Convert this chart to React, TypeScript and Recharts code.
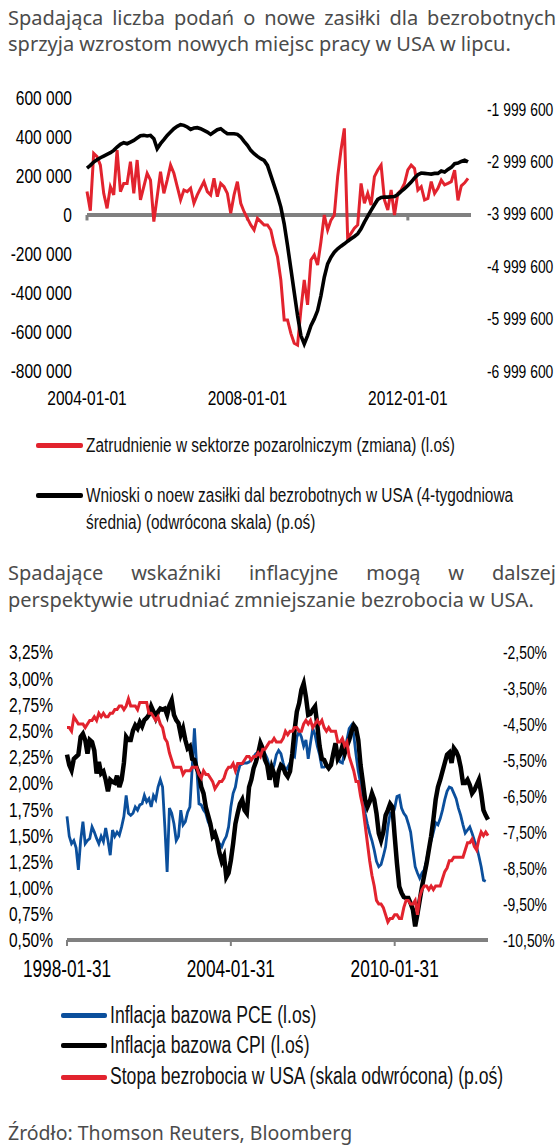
import React from "react";
import { LineChart, Line, XAxis, YAxis, ReferenceLine } from "recharts";

// Arial Narrow is not installed: Liberation Sans squeezed horizontally stands in for it
const TICK_FONT = '"Liberation Sans", Arial, sans-serif';
const TITLE_FONT = '"Noto Sans", "Open Sans", sans-serif';

const RED = "#e2232e";
const BLUE = "#0b4f9c";
const BLACK = "#000000";
const GREY = "#808080";

// ---- chart 1: payrolls vs jobless claims (monthly, 2004-01 .. 2013-07)
const JOBS_L_TICKS = [-800000, -600000, -400000, -200000, 0, 200000, 400000, 600000];
const CLAIMS_R_TICKS = [-6999600, -5999600, -4999600, -3999600, -2999600, -1999600];
const JOBS_X_TICKS = ["2004-01-01", "2008-01-01", "2012-01-01"];

const NFP_CHANGE = [
  120000, 22000, 316000, 299000, 256000, 111000, 34000, 145000, 103000, 333000, 120000, 162000,
  162000, 273000, 111000, 282000, 77000, 145000, 214000, 179000, -34000, 94000, 222000, 111000,
  179000, 256000, 214000, 145000, 77000, 128000, 120000, 137000, 60000, 103000, 137000, 171000,
  120000, 103000, 188000, 94000, 162000, 145000, 111000, 9000, 103000, 171000, 60000, 17000,
  -17000, -51000, -77000, -17000, -34000, -51000, -51000, -77000, -154000, -214000, -333000, -538000,
  -538000, -607000, -658000, -667000, -487000, -333000, -461000, -231000, -205000, -256000, -137000, 0,
  -77000, -26000, 0, 197000, 333000, 444000, -120000, -94000, -68000, -51000, 162000, 60000,
  111000, 51000, 197000, 231000, 256000, 77000, 26000, 128000, 0, 111000, 128000, 162000,
  231000, 256000, 239000, 128000, 145000, 77000, 85000, 171000, 111000, 137000, 179000, 154000,
  162000, 171000, 230000, 75000, 150000, 165000, 188000,
];

const CLAIMS_INV = [
  -3127000, -3076100, -3012600, -2967800, -2929600, -2897800, -2865900, -2834100, -2789600, -2725800, -2674800, -2643000,
  -2662100, -2630300, -2598600, -2553800, -2509300, -2502900, -2515600, -2502900, -2566600, -2757600, -2662100, -2585700,
  -2502900, -2439200, -2375600, -2330900, -2299100, -2311800, -2343600, -2388200, -2362800, -2356400, -2375600, -2407600,
  -2439200, -2483800, -2439200, -2394600, -2375600, -2426600, -2471000, -2471000, -2471000, -2483800, -2534700, -2617600,
  -2694000, -2789600, -2853200, -2904100, -2948700, -2980600, -3076100, -3267200, -3458200, -3649300, -3872200, -4190700,
  -4604700, -5050500, -5496300, -5942100, -6324300, -6483500, -6324300, -6133200, -6005600, -5846600, -5560000, -5209700,
  -4955000, -4827600, -4732000, -4668300, -4617400, -4572800, -4521900, -4477300, -4432700, -4381700, -4286200, -4158800,
  -4044200, -3935900, -3827600, -3725700, -3687500, -3681100, -3681100, -3674800, -3668400, -3630200, -3572900, -3521900,
  -3458200, -3394500, -3318100, -3254400, -3222600, -3229000, -3235300, -3241700, -3229000, -3229000, -3184400, -3203500,
  -3152500, -3114300, -3044200, -3032700, -3000900, -2975500, -3010000,
];

// ---- chart 2: core inflation vs unemployment (monthly, 1998-01 .. 2013-06)
const INFL_L_TICKS = [0.5, 0.75, 1, 1.25, 1.5, 1.75, 2, 2.25, 2.5, 2.75, 3, 3.25];
const UNEMP_R_TICKS = [-10.5, -9.5, -8.5, -7.5, -6.5, -5.5, -4.5, -3.5, -2.5];
const INFL_X_TICKS = ["1998-01-31", "2004-01-31", "2010-01-31"];

const CORE_PCE = [
  1.68, 1.49, 1.42, 1.45, 1.38, 1.17, 1.45, 1.63, 1.42, 1.45, 1.47, 1.58,
  1.53, 1.47, 1.42, 1.49, 1.44, 1.57, 1.45, 1.31, 1.55, 1.49, 1.53, 1.5,
  1.58, 1.68, 1.88, 1.71, 1.69, 1.71, 1.77, 1.74, 1.79, 1.8, 1.88, 1.82,
  1.85, 1.77, 1.88, 1.84, 1.96, 2.03, 1.96, 1.58, 1.15, 1.76, 1.71, 1.61,
  1.45, 1.49, 1.74, 1.6, 1.63, 1.72, 1.77, 2.14, 2.52, 2.15, 1.8, 1.79,
  1.74, 1.71, 1.63, 1.58, 1.52, 1.49, 1.45, 1.42, 1.39, 1.45, 1.49, 1.58,
  1.77, 1.9, 1.96, 2.09, 2.17, 2.18, 2.19, 2.19, 2.2, 2.22, 2.25,
  2.28, 2.28, 2.3, 2.31, 2.28, 2.23, 2.15, 2.11, 2.17, 2.27, 2.31, 2.28, 2.19,
  2.11, 2.15, 2.19, 2.27, 2.25, 2.44, 2.49, 2.44, 2.35, 2.41, 2.23, 2.38,
  2.52, 2.46, 2.35, 2.27, 2.15, 2.15, 2.17, 2.14, 2.17, 2.25, 2.35, 2.25,
  2.2, 2.19, 2.3, 2.41, 2.52, 2.55, 2.46, 2.27, 2.11, 2.0, 1.84, 1.71,
  1.61, 1.52, 1.45, 1.36, 1.25, 1.2, 1.22, 1.3, 1.39, 1.58, 1.71, 1.69,
  1.76, 1.87, 1.88, 1.76, 1.71, 1.68, 1.61, 1.53, 1.36, 1.2, 1.14, 1.09,
  1.14, 1.17, 1.26, 1.38, 1.45, 1.53, 1.62, 1.6, 1.66, 1.74, 1.84, 1.92,
  1.96, 1.95, 1.9, 1.85, 1.76, 1.69, 1.6, 1.52, 1.55, 1.58, 1.52, 1.45,
  1.39, 1.3, 1.2, 1.07, 1.06, null,
];

const CORE_CPI = [
  2.27, 2.17, 2.12, 2.23, 2.25, 2.27, 2.44, 2.47, 2.41, 2.28, 2.41, 2.39,
  2.31, 2.09, 2.2, 2.09, 2.11, 2.03, 1.92, 2.03, 2.01, 2.0, 2.07, 1.96,
  2.03, 2.19, 2.44, 2.41, 2.41, 2.5, 2.55, 2.52, 2.58, 2.54, 2.6, 2.62,
  2.65, 2.73, 2.68, 2.62, 2.68, 2.71, 2.7, 2.71, 2.65, 2.74, 2.79, 2.65,
  2.6, 2.57, 2.46, 2.52, 2.41, 2.33, 2.35, 2.23, 2.22, 2.14, 2.09, 1.96,
  1.9, 1.77, 1.69, 1.61, 1.49, 1.52, 1.45, 1.33, 1.25, 1.3, 1.1, 1.14,
  1.26, 1.42, 1.61, 1.71, 1.8, 1.84, 1.74, 1.71, 1.96, 2.03, 2.14,
  2.2, 2.28, 2.38, 2.33, 2.22, 2.17, 2.03, 2.15, 2.09, 1.96, 2.11, 2.17, 2.15,
  2.09, 2.06, 2.11, 2.28, 2.5, 2.68, 2.76, 2.89, 2.95, 2.82, 2.65, 2.66,
  2.7, 2.73, 2.55, 2.35, 2.23, 2.22, 2.17, 2.14, 2.17, 2.28, 2.38, 2.23,
  2.27, 2.35, 2.28, 2.35, 2.41, 2.49, 2.55, 2.52, 2.41, 2.17, 2.01, 1.84,
  1.77, 1.82, 1.9, 1.84, 1.71, 1.52, 1.45, 1.53, 1.69, 1.74, 1.8, 1.77,
  1.49, 1.23, 1.01, 0.95, 0.91, 0.9, 0.9, 0.85, 0.79, 0.63, 0.75, 0.88,
  1.01, 1.12, 1.23, 1.36, 1.49, 1.65, 1.84, 1.96, 2.03, 2.11, 2.19, 2.27,
  2.29, 2.19, 2.33, 2.3, 2.25, 2.15, 2.0, 2.0, 2.03, 1.98, 1.9, 1.93,
  1.98, 2.03, 1.9, 1.74, 1.69, 1.65,
];

const UNEMP_INV = [
  -4.6, -4.6, -4.7, -4.3, -4.4, -4.5, -4.5, -4.5, -4.6, -4.5, -4.4, -4.4,
  -4.3, -4.4, -4.2, -4.3, -4.2, -4.3, -4.3, -4.2, -4.2, -4.1, -4.1, -4.0,
  -4.0, -4.1, -4.0, -3.8, -4.0, -4.0, -4.0, -4.1, -3.9, -3.9, -3.9, -3.9,
  -4.2, -4.2, -4.3, -4.4, -4.3, -4.5, -4.6, -4.9, -5.0, -5.3, -5.5, -5.7,
  -5.7, -5.7, -5.7, -5.9, -5.8, -5.8, -5.8, -5.7, -5.7, -5.7, -5.9, -6.0,
  -5.8, -5.9, -5.9, -6.0, -6.1, -6.3, -6.2, -6.1, -6.1, -6.0, -5.8, -5.7,
  -5.7, -5.6, -5.8, -5.6, -5.6, -5.6, -5.5, -5.4, -5.4, -5.5, -5.4, -5.4,
  -5.3, -5.4, -5.2, -5.2, -5.1, -5.0, -5.0, -4.9, -5.0, -5.0, -5.0, -4.9,
  -4.7, -4.8, -4.7, -4.7, -4.6, -4.6, -4.7, -4.7, -4.5, -4.4, -4.5, -4.4,
  -4.6, -4.5, -4.4, -4.5, -4.4, -4.6, -4.7, -4.6, -4.7, -4.7, -4.7, -5.0,
  -5.0, -4.9, -5.1, -5.0, -5.4, -5.6, -5.8, -6.1, -6.1, -6.5, -6.8, -7.3,
  -7.8, -8.3, -8.7, -9.0, -9.4, -9.5, -9.5, -9.6, -9.8, -10.0, -9.9, -9.9,
  -9.8, -9.8, -9.9, -9.9, -9.6, -9.4, -9.4, -9.5, -9.5, -9.4, -9.8, -9.3,
  -9.1, -9.0, -9.0, -9.1, -9.0, -9.1, -9.0, -9.0, -9.0, -8.8, -8.6, -8.5,
  -8.3, -8.3, -8.2, -8.2, -8.2, -8.2, -8.2, -8.0, -7.8, -7.8, -7.7, -7.9,
  -8.0, -7.7, -7.5, -7.6, -7.5, -7.6,
];

function monthDates(year: number, month: number, count: number, monthEnd: boolean) {
  const out: string[] = [];
  for (let i = 0; i < count; i++) {
    const y = year + Math.floor((month - 1 + i) / 12);
    const m = ((month - 1 + i) % 12) + 1;
    const d = monthEnd ? new Date(Date.UTC(y, m, 0)).getUTCDate() : 1;
    out.push(`${y}-${String(m).padStart(2, "0")}-${String(d).padStart(2, "0")}`);
  }
  return out;
}

const JOBS_DATES = monthDates(2004, 1, NFP_CHANGE.length, false);
const INFL_DATES = monthDates(1998, 1, CORE_CPI.length, true);

const jobsData = JOBS_DATES.map((date, i) => ({
  date,
  nfp: NFP_CHANGE[i],
  claims: CLAIMS_INV[i],
}));

const inflData = INFL_DATES.map((date, i) => ({
  date,
  pce: CORE_PCE[i],
  cpi: CORE_CPI[i],
  unemp: UNEMP_INV[i],
}));

function fmtSpaced(v: number) {
  const s = Math.abs(v)
    .toString()
    .replace(/\B(?=(\d{3})+(?!\d))/g, " ");
  return (v < 0 ? "-" : "") + s;
}

const fmtPct = (v: number) => v.toFixed(2).replace(".", ",") + "%";

// tick drawn squeezed around its anchor point
function NarrowTick(props: any) {
  const { x, y, payload, textAnchor, size, fmt, dy, sx } = props;
  const label = fmt ? fmt(payload.value) : payload.value;
  return (
    <g transform={`translate(${x},${y})`}>
      <text
        transform={`scale(${sx},1)`}
        textAnchor={textAnchor}
        dy={dy}
        fontSize={size}
        fontFamily={TICK_FONT}
        fill="#000"
      >
        {label}
      </text>
    </g>
  );
}

function Text({ left, center, size, lh, color, font, children, width, justify, squeeze }: any) {
  return (
    <div
      style={{
        position: "absolute",
        left,
        top: center - lh / 2,
        width,
        fontSize: size,
        lineHeight: `${lh}px`,
        color,
        fontFamily: font,
        whiteSpace: "nowrap",
        textAlign: justify ? "justify" : "left",
        textAlignLast: justify ? "justify" : "auto",
        transform: squeeze ? `scaleX(${squeeze})` : undefined,
        transformOrigin: "left center",
      }}
    >
      {children}
    </div>
  );
}

function Swatch({ left, center, width, color }: any) {
  return (
    <div
      style={{
        position: "absolute",
        left,
        top: center - 2.5,
        width,
        height: 5,
        background: color,
        borderRadius: 2,
      }}
    />
  );
}

export default function App() {
  return (
    <div
      style={{
        position: "absolute",
        left: 0,
        top: 0,
        width: 559,
        height: 1146,
        background: "#fff",
        overflow: "hidden",
      }}
    >
      <Text left={8} center={18} size={20} lh={26} color="#4b4b4b" font={TITLE_FONT} width={548} justify>
        Spadająca liczba podań o nowe zasiłki dla bezrobotnych
      </Text>
      <Text left={8} center={44} size={20} lh={26} color="#4b4b4b" font={TITLE_FONT}>
        sprzyja wzrostom nowych miejsc pracy w USA w lipcu.
      </Text>

      <div style={{ position: "absolute", left: 0, top: 80 }}>
        <LineChart
          width={559}
          height={330}
          data={jobsData}
          margin={{ top: 18, right: 0, bottom: 0, left: 0 }}
        >
          <XAxis
            dataKey="date"
            ticks={JOBS_X_TICKS}
            interval={0}
            axisLine={false}
            tickLine={false}
            tickSize={0}
            tickMargin={19}
            height={39}
            padding={{ left: 0, right: 3 }}
            tick={(p: any) => <NarrowTick {...p} size={21} sx={0.74} dy="0.71em" />}
          />
          <YAxis
            yAxisId="l"
            type="number"
            domain={[-800000, 600000]}
            ticks={JOBS_L_TICKS}
            interval={0}
            width={87}
            axisLine={false}
            tickLine={false}
            tickSize={0}
            tickMargin={15}
            tick={(p: any) => (
              <NarrowTick {...p} size={21} sx={0.74} dy="0.355em" fmt={fmtSpaced} />
            )}
          />
          <YAxis
            yAxisId="r"
            orientation="right"
            type="number"
            domain={[-6999600, -1790000]}
            ticks={CLAIMS_R_TICKS}
            interval={0}
            width={88}
            axisLine={false}
            tickLine={false}
            tickSize={0}
            tickMargin={16}
            tick={(p: any) => (
              <NarrowTick {...p} size={18.5} sx={0.75} dy="0.355em" fmt={fmtSpaced} />
            )}
          />
          <ReferenceLine yAxisId="l" y={0} stroke={GREY} strokeWidth={4} />
          {JOBS_X_TICKS.map((d) => (
            <ReferenceLine
              key={d}
              yAxisId="l"
              segment={[
                { x: d, y: 0 },
                { x: d, y: -28000 },
              ]}
              stroke={GREY}
              strokeWidth={3}
            />
          ))}
          <Line
            yAxisId="l"
            dataKey="nfp"
            stroke={RED}
            strokeWidth={3}
            dot={false}
            type="linear"
            isAnimationActive={false}
          />
          <Line
            yAxisId="r"
            dataKey="claims"
            stroke={BLACK}
            strokeWidth={3.6}
            dot={false}
            type="linear"
            isAnimationActive={false}
          />
        </LineChart>
      </div>

      <Swatch left={36} center={445.5} width={47} color={RED} />
      <Text left={86} center={445} size={20} lh={26} color="#111" font={TICK_FONT} squeeze={0.77}>
        Zatrudnienie w sektorze pozarolniczym (zmiana) (l.oś)
      </Text>
      <Swatch left={36} center={495.5} width={47} color={BLACK} />
      <Text left={86} center={495} size={20} lh={26} color="#111" font={TICK_FONT} squeeze={0.77}>
        Wnioski o noew zasiłki dal bezrobotnych w USA (4-tygodniowa
      </Text>
      <Text left={86} center={522} size={20} lh={26} color="#111" font={TICK_FONT} squeeze={0.77}>
        średnia) (odwrócona skala) (p.oś)
      </Text>

      <Text left={8} center={573} size={20} lh={26} color="#4b4b4b" font={TITLE_FONT} width={548} justify>
        Spadające wskaźniki inflacyjne mogą w dalszej
      </Text>
      <Text left={8} center={600} size={20} lh={26} color="#4b4b4b" font={TITLE_FONT}>
        perspektywie utrudniać zmniejszanie bezrobocia w USA.
      </Text>

      <div style={{ position: "absolute", left: 0, top: 630 }}>
        <LineChart
          width={559}
          height={360}
          data={inflData}
          margin={{ top: 22, right: 0, bottom: 0, left: 0 }}
        >
          <XAxis
            dataKey="date"
            ticks={INFL_X_TICKS}
            interval={0}
            axisLine={{ stroke: GREY, strokeWidth: 4 }}
            tickLine={{ stroke: GREY, strokeWidth: 2 }}
            tickSize={6}
            tickMargin={15}
            height={50}
            tick={(p: any) => <NarrowTick {...p} size={23} sx={0.75} dy="0.71em" />}
          />
          <YAxis
            yAxisId="l"
            type="number"
            domain={[0.5, 3.25]}
            ticks={INFL_L_TICKS}
            interval={0}
            width={67}
            axisLine={false}
            tickLine={false}
            tickSize={0}
            tickMargin={14}
            tick={(p: any) => (
              <NarrowTick {...p} size={21} sx={0.74} dy="0.355em" fmt={fmtPct} />
            )}
          />
          <YAxis
            yAxisId="r"
            orientation="right"
            type="number"
            domain={[-10.5, -2.5]}
            ticks={UNEMP_R_TICKS}
            interval={0}
            width={71}
            axisLine={false}
            tickLine={false}
            tickSize={0}
            tickMargin={15}
            tick={(p: any) => (
              <NarrowTick {...p} size={18.5} sx={0.75} dy="0.355em" fmt={fmtPct} />
            )}
          />
          <Line
            yAxisId="l"
            dataKey="pce"
            stroke={BLUE}
            strokeWidth={2.8}
            dot={false}
            type="linear"
            isAnimationActive={false}
          />
          <Line
            yAxisId="l"
            dataKey="cpi"
            stroke={BLACK}
            strokeWidth={4.5}
            dot={false}
            type="linear"
            isAnimationActive={false}
          />
          <Line
            yAxisId="r"
            dataKey="unemp"
            stroke={RED}
            strokeWidth={3}
            dot={false}
            type="linear"
            isAnimationActive={false}
          />
        </LineChart>
      </div>

      <Swatch left={61} center={1015} width={46} color={BLUE} />
      <Text left={110} center={1015} size={23} lh={30} color="#111" font={TICK_FONT} squeeze={0.765}>
        Inflacja bazowa PCE (l.os)
      </Text>
      <Swatch left={61} center={1045.5} width={46} color={BLACK} />
      <Text left={110} center={1045} size={23} lh={30} color="#111" font={TICK_FONT} squeeze={0.765}>
        Inflacja bazowa CPI (l.oś)
      </Text>
      <Swatch left={61} center={1077} width={46} color={RED} />
      <Text left={110} center={1076} size={23} lh={30} color="#111" font={TICK_FONT} squeeze={0.765}>
        Stopa bezrobocia w USA (skala odwrócona) (p.oś)
      </Text>

      <Text left={8} center={1133} size={19.5} lh={26} color="#4b4b4b" font={TITLE_FONT}>
        Źródło: Thomson Reuters, Bloomberg
      </Text>
    </div>
  );
}
